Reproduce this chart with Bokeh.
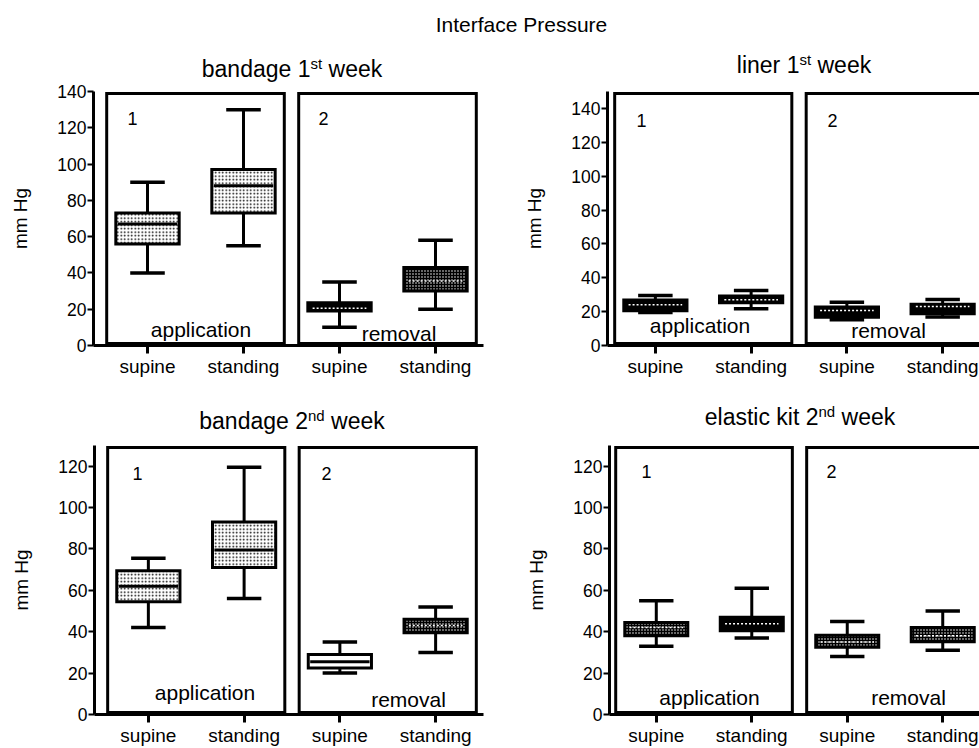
from bokeh.plotting import figure
from bokeh.models import ColumnDataSource, FixedTicker, Label, Range1d
from bokeh.transform import dodge
from bokeh.layouts import column, row
from bokeh.embed import file_html
from bokeh.resources import INLINE
from bokeh.core.validation import silence
from bokeh.core.validation.warnings import MISSING_RENDERERS

silence(MISSING_RENDERERS, True)

FONT = "Liberation Sans"

# ---------------- data ----------------
chart_title = "Interface Pressure"
categories = ["supine", "standing", "supine", "standing"]
group_names = ["application", "removal"]
group_numbers = ["1", "2"]
y_label = "mm Hg"

# bandage 1st week
b1_title = ("bandage 1", "st", "week")
b1_ticks = [0, 20, 40, 60, 80, 100, 120, 140]
b1_low = [40, 55, 10, 20]
b1_q1 = [56, 73, 19, 30]
b1_med = [67, 88, 20.5, 35.5]
b1_q3 = [73, 97, 23.5, 43]
b1_high = [90, 130, 35, 58]

# liner 1st week
l1_title = ("liner 1", "st", "week")
l1_ticks = [0, 20, 40, 60, 80, 100, 120, 140]
l1_low = [19.5, 21.7, 15.2, 16.8]
l1_q1 = [20.5, 25.2, 16.7, 18.7]
l1_med = [24, 27, 20.7, 23]
l1_q3 = [26.8, 29.3, 22.8, 24.4]
l1_high = [29.5, 32.5, 25.6, 27.2]

# bandage 2nd week
b2_title = ("bandage 2", "nd", "week")
b2_ticks = [0, 20, 40, 60, 80, 100, 120]
b2_low = [42, 56, 20, 30]
b2_q1 = [54.5, 71, 22.5, 39.5]
b2_med = [62, 79.5, 25.5, 43]
b2_q3 = [69.5, 93, 29, 46]
b2_high = [75.5, 119.5, 35, 52]

# elastic kit 2nd week
e2_title = ("elastic kit 2", "nd", "week")
e2_ticks = [0, 20, 40, 60, 80, 100, 120]
e2_low = [33, 37, 28, 31]
e2_q1 = [38, 40.5, 32.5, 35.2]
e2_med = [42, 43.8, 35, 38]
e2_q3 = [44.5, 47, 38.3, 42]
e2_high = [55, 61, 45, 50]

# ---------------- styles ----------------
FILLS = {
    "light": dict(fill_color="white", hatch_pattern="dot", hatch_color="black", hatch_scale=3.5, hatch_weight=1.0),
    "dark": dict(fill_color="black", hatch_pattern=" "),
    "check": dict(fill_color="black", hatch_pattern="dot", hatch_color="white", hatch_scale=3.0, hatch_weight=1.0),
    "plain": dict(fill_color="white", hatch_pattern=" "),
}
MEDS = {
    "black": dict(half=0.31, line_color="black", line_width=3, line_dash="solid"),
    "white": dict(half=0.28, line_color="white", line_width=1.5, line_dash="2 2"),
}

ARIAL = {'a': 556, 'b': 556, 'c': 500, 'd': 556, 'e': 556, 'g': 556, 'i': 222, 'k': 500,
         'l': 222, 'n': 556, 'r': 333, 's': 500, 't': 278, 'w': 722, '1': 556, '2': 556, ' ': 278}


def tw(s, size):
    return sum(ARIAL.get(ch, 556) for ch in s) / 1000.0 * size


def add_text(p, origin, px, base, text, size, align="center"):
    """Place text whose baseline is at page y = base (anchor uses middle of font box)."""
    ox, oy = origin  # page position of the frame's bottom-left corner
    mid_y = base - 0.35 * size
    p.add_layout(Label(x=px - ox, y=oy - mid_y, x_units="screen", y_units="screen", text=text,
                       text_font=FONT, text_font_size=f"{size}px", text_align=align,
                       text_baseline="middle", text_color="black"))


def add_title(p, origin, pieces, cx, base, T=23, S=15, raise_px=8.5):
    main, sup, rest = pieces
    w_main, w_sup, w_sp, w_rest = tw(main, T), tw(sup, S), tw(" ", T), tw(rest, T)
    x0 = cx - (w_main + w_sup + w_sp + w_rest) / 2
    add_text(p, origin, x0, base, main, T, "left")
    add_text(p, origin, x0 + w_main, base - raise_px, sup, S, "left")
    add_text(p, origin, x0 + w_main + w_sup + w_sp, base, rest, T, "left")


def text_strip(y0, y1):
    p = figure(width=979, height=y1 - y0, output_backend="svg", toolbar_location=None, title=None,
               x_axis_type=None, y_axis_type=None, min_border=0,
               x_range=Range1d(0, 1), y_range=Range1d(0, 1))
    p.outline_line_color = None
    p.xgrid.visible = False
    p.ygrid.visible = False
    return p


def make_panel(spec, ticks, low, q1, med, q3, high, box_styles, med_styles):
    fl, fr, ft, fb = spec["frame"]
    fx0, fy0, w, h = spec["fig"]
    ymax = spec["ymax"]
    p = figure(width=w, height=h, x_range=Range1d(*spec["xr"]), y_range=Range1d(0, ymax),
               output_backend="svg", toolbar_location=None, title=None,
               min_border_left=fl - fx0, min_border_right=fx0 + w - fr,
               min_border_top=ft - fy0, min_border_bottom=fy0 + h - fb)
    p.xgrid.visible = False
    p.ygrid.visible = False
    p.outline_line_color = None
    p.background_fill_color = "white"
    p.border_fill_color = "white"

    xs = list(range(1, len(categories) + 1))

    # group frames
    pad = 2.0 * ymax / (fb - ft)
    lefts = [xs[2 * g] - 0.425 for g in range(len(group_names))]
    rights = [xs[2 * g + 1] + 0.425 for g in range(len(group_names))]
    p.quad(left=lefts, right=rights, bottom=[pad] * len(lefts), top=[ymax - pad] * len(lefts),
           fill_color=None, line_color="black", line_width=3, line_join="miter")

    src = ColumnDataSource(dict(x=xs, low=low, q1=q1, med=med, q3=q3, high=high))
    # whiskers
    p.segment(x0="x", y0="low", x1="x", y1="high", source=src, line_color="black", line_width=3)
    p.segment(x0=dodge("x", -0.18), y0="high", x1=dodge("x", 0.18), y1="high", source=src,
              line_color="black", line_width=3.5)
    p.segment(x0=dodge("x", -0.18), y0="low", x1=dodge("x", 0.18), y1="low", source=src,
              line_color="black", line_width=3.5)
    # boxes by style
    for key, st in FILLS.items():
        idx = [i for i, s in enumerate(box_styles) if s == key]
        if not idx:
            continue
        sub = ColumnDataSource(dict(x=[xs[i] for i in idx], q1=[q1[i] for i in idx], q3=[q3[i] for i in idx]))
        p.vbar(x="x", width=0.66, bottom="q1", top="q3", source=sub, line_color="black",
               line_width=3, line_join="miter", **st)
    # medians by style
    for key, st in MEDS.items():
        idx = [i for i, s in enumerate(med_styles) if s == key]
        if not idx:
            continue
        sub = ColumnDataSource(dict(x=[xs[i] for i in idx], med=[med[i] for i in idx]))
        p.segment(x0=dodge("x", -st["half"]), y0="med", x1=dodge("x", st["half"]), y1="med",
                  source=sub, line_color=st["line_color"], line_width=st["line_width"],
                  line_dash=st["line_dash"])

    # axes
    ya = p.yaxis[0]
    ya.ticker = FixedTicker(ticks=ticks)
    ya.axis_line_width = 3
    ya.axis_line_color = "black"
    ya.major_tick_line_width = 2
    ya.major_tick_out = 6
    ya.major_tick_in = 0
    ya.minor_tick_out = 0
    ya.minor_tick_in = 0
    ya.major_label_text_font = FONT
    ya.major_label_text_font_size = "17.5px"
    ya.major_label_text_color = "black"
    ya.major_label_standoff = 1
    ya.axis_label = y_label
    ya.axis_label_text_font = FONT
    ya.axis_label_text_font_size = "19px"
    ya.axis_label_text_font_style = "normal"
    ya.axis_label_text_color = "black"
    ya.axis_label_standoff = spec["lab_off"]

    xa = p.xaxis[0]
    xa.ticker = FixedTicker(ticks=xs)
    xa.major_label_overrides = {x: c for x, c in zip(xs, categories)}
    xa.axis_line_width = 3
    xa.axis_line_color = "black"
    xa.major_tick_line_width = 3
    xa.major_tick_out = 8
    xa.major_tick_in = 0
    xa.minor_tick_out = 0
    xa.minor_tick_in = 0
    xa.major_label_text_font = FONT
    xa.major_label_text_font_size = "19px"
    xa.major_label_text_color = "black"
    xa.major_label_standoff = 2

    # in-frame annotations
    origin = (fl, fb)
    for (nx, ny), t in zip(spec["nums"], group_numbers):
        add_text(p, origin, nx, ny, t, 18)
    for (gx, gy), t in zip(spec["groups"], group_names):
        add_text(p, origin, gx, gy, t, 21)
    return p


# panel geometry (page pixels): fig=(x0, y0, w, h), frame=(left, right, top, bottom)
TL = dict(fig=(0, 83, 490, 305), frame=(93, 483, 91, 347), xr=(0.4375, 4.5), ymax=140,
          nums=[(132, 126), (323, 126)], groups=[(200.5, 338), (398.5, 342)], lab_off=23)
TR = dict(fig=(490, 83, 489, 305), frame=(607, 979, 91, 345), xr=(0.5, 4.385), ymax=150,
          nums=[(641, 126), (832, 126)], groups=[(699.5, 332), (888, 337)], lab_off=23)
BL = dict(fig=(0, 436, 490, 312), frame=(94, 483, 445, 715), xr=(0.4375, 4.5), ymax=130,
          nums=[(137, 480), (326, 480)], groups=[(204.5, 700), (408, 707)], lab_off=23)
BR = dict(fig=(490, 436, 489, 312), frame=(609, 979, 442, 715), xr=(0.51, 4.385), ymax=130,
          nums=[(646, 478), (831, 478)], groups=[(709, 705), (908, 705)], lab_off=23)

p_tl = make_panel(TL, b1_ticks, b1_low, b1_q1, b1_med, b1_q3, b1_high,
                  ["light", "light", "dark", "check"], ["black", "black", "white", "white"])
p_tr = make_panel(TR, l1_ticks, l1_low, l1_q1, l1_med, l1_q3, l1_high,
                  ["dark", "dark", "dark", "dark"], ["white", "white", "white", "white"])
p_bl = make_panel(BL, b2_ticks, b2_low, b2_q1, b2_med, b2_q3, b2_high,
                  ["light", "light", "plain", "check"], ["black", "black", "black", "white"])
p_br = make_panel(BR, e2_ticks, e2_low, e2_q1, e2_med, e2_q3, e2_high,
                  ["check", "dark", "check", "check"], ["white", "white", "white", "white"])

# strip with overall title and first-row panel titles (page y 0..83)
top = text_strip(0, 83)
add_text(top, (0, 83), 521, 31, chart_title, 21)
add_title(top, (0, 83), b1_title, 291.5, 77)
add_title(top, (0, 83), l1_title, 803.5, 73)

# strip with second-row panel titles (page y 388..436)
mid = text_strip(388, 436)
add_title(mid, (0, 436), b2_title, 291.5, 429)
add_title(mid, (0, 436), e2_title, 799.5, 425)

layout = column(top, row(p_tl, p_tr), mid, row(p_bl, p_br))

open("out.html", "w").write(file_html(layout, INLINE))
